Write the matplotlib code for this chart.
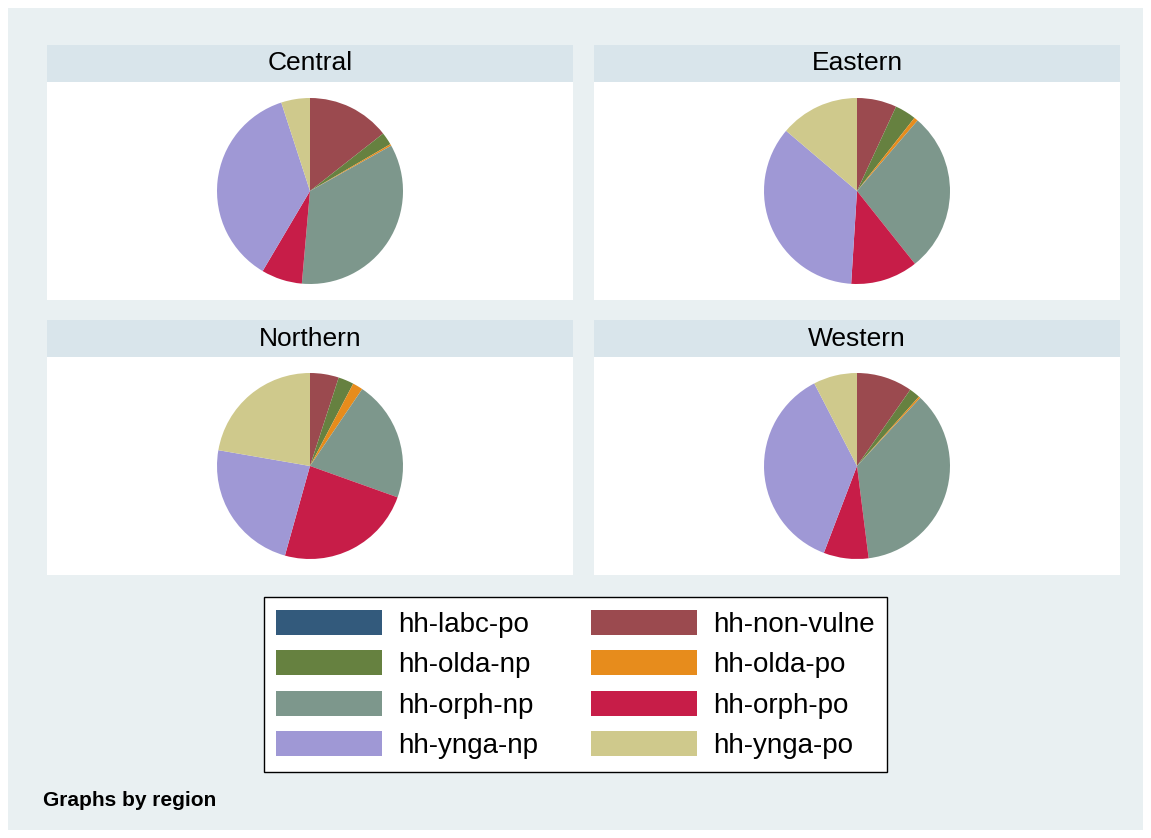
import matplotlib
matplotlib.use("Agg")
import matplotlib.pyplot as plt
from matplotlib.patches import Rectangle, Patch

plt.rcParams['font.family'] = ['Liberation Sans', 'DejaVu Sans']

# categories in Stata order (clockwise from 12 o'clock)
categories = ['hh-labc-po', 'hh-non-vulne', 'hh-olda-np', 'hh-olda-po',
              'hh-orph-np', 'hh-orph-po', 'hh-ynga-np', 'hh-ynga-po']
colors = ['#335a7c', '#9b4a4f', '#668140', '#e78c1c',
          '#7d978c', '#c71d48', '#9f98d5', '#cfc98c']

regions = ['Central', 'Eastern', 'Northern', 'Western']
# percent shares
central = [0.0, 14.4, 2.2, 0.3, 34.5, 7.1, 36.5, 5.0]
eastern = [0.0, 6.9, 3.7, 0.7, 28.0, 11.7, 35.2, 13.8]
northern = [0.0, 5.0, 2.7, 1.8, 21.0, 23.9, 23.4, 22.3]
western = [0.0, 9.7, 1.9, 0.3, 36.1, 7.8, 36.6, 7.6]
shares = [central, eastern, northern, western]

W, H = 1151, 838
fig = plt.figure(figsize=(W / 100, H / 100), dpi=100)
fig.patch.set_facecolor('white')

bg = '#e9f0f2'
strip = '#d9e5eb'

def px_axes(x0, y0, x1, y1):
    # pixel box (top-left origin) -> figure axes
    return fig.add_axes([x0 / W, 1 - y1 / H, (x1 - x0) / W, (y1 - y0) / H])

# graph region background
fig.add_artist(Rectangle((8 / W, 1 - 830 / H), (1143 - 8) / W, (830 - 8) / H,
                         transform=fig.transFigure, facecolor=bg,
                         edgecolor='none', zorder=0))

panels = [(47, 45, 573), (594, 45, 1120), (47, 320, 573), (594, 320, 1120)]
radius_px = 93

for (x0, y0, x1), name, vals in zip(panels, regions, shares):
    sax = px_axes(x0, y0, x1, y0 + 37)
    sax.set_facecolor(strip)
    sax.set_xticks([])
    sax.set_yticks([])
    for s in sax.spines.values():
        s.set_visible(False)
    sax.text(0.5, 0.5, name, ha='center', va='center', fontsize=19,
             transform=sax.transAxes)

    pax = px_axes(x0, y0 + 37, x1, y0 + 255)
    pax.pie(vals, colors=colors, startangle=90, counterclock=False,
            wedgeprops=dict(linewidth=0))
    hw = (x1 - x0) / radius_px / 2
    hh = 218 / radius_px / 2
    pax.set_xlim(-hw, hw)
    pax.set_ylim(-hh, hh)
    pax.set_aspect('auto')
    pax.set_frame_on(True)
    pax.set_facecolor('white')
    pax.set_xticks([])
    pax.set_yticks([])
    for s in pax.spines.values():
        s.set_visible(False)

handles = [Patch(facecolor=c, edgecolor='none', label=l)
           for c, l in zip(colors, categories)]
order = [0, 2, 4, 6, 1, 3, 5, 7]
leg = fig.legend([handles[i] for i in order], [categories[i] for i in order],
                 ncol=2, loc='center', bbox_to_anchor=(575.5 / W, 1 - 684.5 / H),
                 fontsize=20, handlelength=3.8, handleheight=1.0,
                 handletextpad=0.6, columnspacing=1.9, labelspacing=0.45,
                 borderpad=0.45, borderaxespad=0, fancybox=False, framealpha=1)
leg.get_frame().set_edgecolor('black')
leg.get_frame().set_linewidth(1.0)

fig.text(43 / W, 1 - 800 / H, 'Graphs by region', fontsize=15,
         fontweight='bold', va='center', ha='left')

fig.savefig('out.png', dpi=100, facecolor=fig.get_facecolor())
